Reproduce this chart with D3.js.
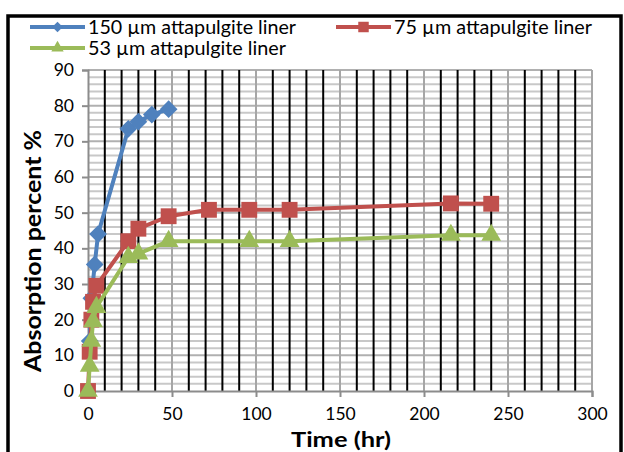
<!DOCTYPE html>
<html><head><meta charset="utf-8">
<script src="https://cdn.jsdelivr.net/npm/d3@7/dist/d3.min.js"></script>
<style>body{margin:0;background:#fff}svg{display:block}</style>
</head><body><svg id="c" width="624" height="452"></svg>
<script>
const seriesNames = ["150 µm attapulgite liner", "75 µm attapulgite liner", "53 µm attapulgite liner"];
const blueT = [1, 2, 4, 6, 24, 30, 38, 48];
const blueV = [14, 26, 35.5, 44, 73.5, 75.5, 77.5, 79];
const redT = [0, 1, 2, 3, 5, 24, 30, 48, 72, 96, 120, 216, 240];
const redV = [0, 11, 20, 25, 29.5, 42, 45.5, 49, 50.8, 50.8, 50.8, 52.6, 52.5];
const greenT = [0, 1, 2, 3, 5, 24, 30, 48, 96, 120, 216, 240];
const greenV = [0, 7, 14, 19.5, 23.5, 37.5, 38.5, 42, 42, 42, 43.7, 43.7];
const xTicks = [0, 50, 100, 150, 200, 250, 300];
const yTicks = [0, 10, 20, 30, 40, 50, 60, 70, 80, 90];
const xTitle = "Time (hr)";
const yTitle = "Absorption percent %";

const colors = ["#4F81BD", "#C0504D", "#9BBB59"];
const font = "Lato, 'Open Sans', sans-serif";
const svg = d3.select("#c");
const x = d3.scaleLinear().domain([0, 300]).range([88, 592]);
const y = d3.scaleLinear().domain([0, 90]).range([391, 70]);

svg.append("rect").attr("x", 8).attr("y", 16).attr("width", 613).attr("height", 450)
  .attr("fill", "none").attr("stroke", "#000").attr("stroke-width", 3.5);

const g = svg.append("g");
g.selectAll(".hmin").data(d3.range(2, 90, 2).filter(v => v % 10 !== 0)).join("line")
  .attr("x1", x(0)).attr("x2", x(300)).attr("y1", d => y(d)).attr("y2", d => y(d))
  .attr("stroke", "#c8c8c8").attr("stroke-width", 2);
g.selectAll(".hmaj").data(yTicks.slice(1)).join("line")
  .attr("x1", x(0)).attr("x2", x(300)).attr("y1", d => y(d)).attr("y2", d => y(d))
  .attr("stroke", "#b0b0b0").attr("stroke-width", 2);
g.selectAll(".vmin").data(d3.range(10, 300, 10).filter(v => v % 50 !== 0)).join("line")
  .attr("x1", d => x(d)).attr("x2", d => x(d)).attr("y1", y(0)).attr("y2", y(90))
  .attr("stroke", "#000").attr("stroke-width", 2);
g.selectAll(".vmaj").data(xTicks.slice(1)).join("line")
  .attr("x1", d => x(d)).attr("x2", d => x(d)).attr("y1", y(0)).attr("y2", y(90))
  .attr("stroke", "#a6a6a6").attr("stroke-width", 2);

const xAxis = svg.append("g").attr("transform", `translate(0,${y(0)})`)
  .call(d3.axisBottom(x).tickValues(xTicks).tickSize(6).tickPadding(11));
const yAxis = svg.append("g").attr("transform", `translate(${x(0)},0)`)
  .call(d3.axisLeft(y).tickValues(yTicks).tickSize(6).tickPadding(8));
[xAxis, yAxis].forEach(a => {
  a.select(".domain").attr("stroke", "#8c8c8c").attr("stroke-width", 2);
  a.selectAll(".tick line").attr("stroke", "#8c8c8c").attr("stroke-width", 2);
  a.selectAll("text").attr("font-family", font).attr("font-size", 17.5).attr("fill", "#000");
});

svg.append("text").attr("x", 341).attr("y", 447).attr("text-anchor", "middle")
  .attr("font-family", font).attr("font-weight", "bold").attr("font-size", 21)
  .attr("textLength", 100).attr("lengthAdjust", "spacingAndGlyphs").text(xTitle);
svg.append("text").attr("transform", "translate(41,251) rotate(-90)").attr("text-anchor", "middle")
  .attr("font-family", font).attr("font-weight", "bold").attr("font-size", 22)
  .attr("textLength", 242).attr("lengthAdjust", "spacingAndGlyphs").text(yTitle);

const data = [
  blueT.map((t, i) => [t, blueV[i]]),
  redT.map((t, i) => [t, redV[i]]),
  greenT.map((t, i) => [t, greenV[i]])
];
const line = d3.line().x(d => x(d[0])).y(d => y(d[1]));
const sizes = [200, 320, 280];

function marker(sel, i, size) {
  if (i === 0) {
    sel.append("path").attr("d", d3.symbol(d3.symbolSquare2, size)()).attr("transform", "rotate(45)");
  } else if (i === 1) {
    sel.append("path").attr("d", d3.symbol(d3.symbolSquare2, size)());
  } else {
    sel.append("path").attr("d", d3.symbol(d3.symbolTriangle2, size)());
  }
}

data.forEach((ser, i) => {
  const sg = svg.append("g");
  sg.append("path").datum(ser).attr("d", line).attr("fill", "none")
    .attr("stroke", colors[i]).attr("stroke-width", 4).attr("stroke-linejoin", "round");
  ser.forEach(p => {
    const m = sg.append("g").attr("transform", `translate(${x(p[0])},${y(p[1])})`).attr("fill", colors[i]);
    marker(m, i, sizes[i]);
  });
});

const legendPos = [[30, 27], [336, 27], [30, 48]];
const legendW = [208, 198, 198];
legendPos.forEach((p, i) => {
  const lg = svg.append("g").attr("transform", `translate(${p[0]},${p[1]})`);
  lg.append("line").attr("x1", 0).attr("x2", 55).attr("stroke", colors[i]).attr("stroke-width", 4);
  const m = lg.append("g").attr("transform", "translate(27.5,0)").attr("fill", colors[i]);
  marker(m, i, [70, 140, 110][i]);
  lg.append("text").attr("x", 58).attr("y", 6.5).attr("font-family", font).attr("font-size", 19.5)
    .attr("textLength", legendW[i]).attr("lengthAdjust", "spacingAndGlyphs")
    .text(seriesNames[i]);
});
</script></body></html>
